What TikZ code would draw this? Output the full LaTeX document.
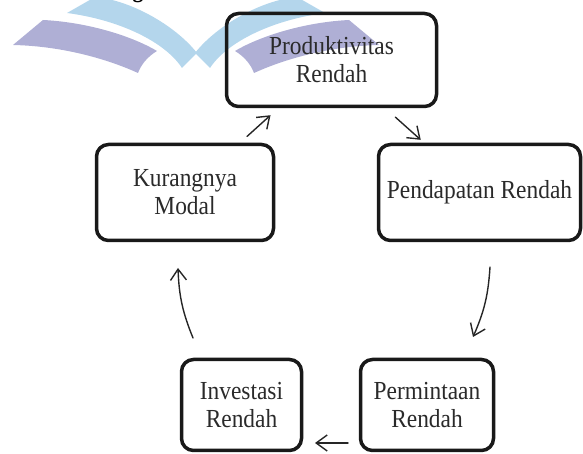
\documentclass[tikz,border=0pt]{standalone}
\usepackage{fontspec}
\setmainfont[FakeStretch=0.9]{Liberation Serif}
\usepackage{tikz}
\usetikzlibrary{arrows.meta}
\definecolor{wmblue}{HTML}{B4D6EC}
\definecolor{wmpurple}{HTML}{AFAFD5}
\definecolor{txtgray}{HTML}{2A2A2A}

\begin{document}
\begin{tikzpicture}[line cap=round,line join=round,>={Straight Barb[length=11pt,width=16pt]},x=1pt,y=1pt,
box/.style={draw=black!90,line width=3.5pt,rounded corners=12pt,outer sep=0pt,inner sep=0pt,align=center,text=txtgray,font=\fontsize{26}{28}\selectfont},
arr/.style={->,line width=1.4pt,draw=black!85}]
\useasboundingbox (0,0) rectangle (583,454);
% watermark
\begin{scope}
\clip (0,0) rectangle (583,454);
\node[anchor=base,font=\fontsize{24}{24}\bfseries\selectfont] (capg) at (138,456) {g};
\foreach \s in {1,-1} {
\begin{scope}[xshift={196-196*\s},xscale=\s]
\fill[wmpurple] (13,409) -- (43,434) .. controls (85,432) and (130,419) .. (157,403) .. controls (147,397) and (141,389) .. (138,381) .. controls (105,396) and (60,408) .. (13,409) -- cycle;
\fill[wmblue] (67,441) -- (95,457) .. controls (130,454) and (175,429) .. (197,401) -- (182,386) .. controls (165,412) and (120,434) .. (67,441) -- cycle;
\end{scope}
}
\end{scope}
% boxes
\node[box,minimum width=210pt,minimum height=93pt] (prod) at (331.5,394) {Produktivitas\\Rendah};
\node[box,minimum width=177pt,minimum height=96pt] (modal) at (185,261.5) {Kurangnya\\Modal};
\node[box,minimum width=202pt,minimum height=96pt] (pend) at (479.5,261.5) {Pendapatan Rendah};
\node[box,minimum width=133pt,minimum height=91pt] (perm) at (427,49) {Permintaan\\Rendah};
\node[box,minimum width=120pt,minimum height=91pt] (inv) at (241.5,49) {Investasi\\Rendah};
% arrows
\draw[arr,shorten <=12pt,shorten >=13pt] (modal) -- (prod);
\draw[arr,shorten <=16pt,shorten >=7pt] (prod) -- (pend);
\draw[arr] ([shift={(10.5,-26.5)}]pend.south) to[bend left=10] ([shift={(-20.5,22.5)}]perm.north east);
\draw[arr] ([shift={(-12.5,7.5)}]perm.south west) -- ([shift={(13.5,7.5)}]inv.south east);
\draw[arr] ([shift={(11.5,21.5)}]inv.north west) to[bend left=10] ([shift={(-7,-27.5)}]modal.south);
\end{tikzpicture}
\end{document}
